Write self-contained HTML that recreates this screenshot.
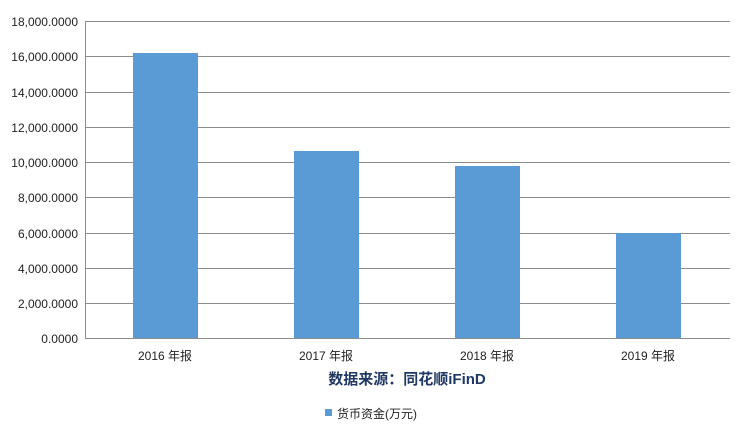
<!DOCTYPE html>
<html><head><meta charset="utf-8"><style>
body{margin:0;background:#fff}
svg text{font-family:"Liberation Sans","Noto Sans CJK SC",sans-serif}
</style></head><body>
<svg width="743" height="430" viewBox="0 0 743 430" xmlns="http://www.w3.org/2000/svg">
<rect width="743" height="430" fill="#fff"/>
<g stroke="#8c8c8c" stroke-width="1">
<line x1="85" y1="21.5" x2="730" y2="21.5"/>
<line x1="85" y1="56.5" x2="730" y2="56.5"/>
<line x1="85" y1="92.5" x2="730" y2="92.5"/>
<line x1="85" y1="127.5" x2="730" y2="127.5"/>
<line x1="85" y1="162.5" x2="730" y2="162.5"/>
<line x1="85" y1="197.5" x2="730" y2="197.5"/>
<line x1="85" y1="233.5" x2="730" y2="233.5"/>
<line x1="85" y1="268.5" x2="730" y2="268.5"/>
<line x1="85" y1="303.5" x2="730" y2="303.5"/>
<line x1="85.5" y1="21" x2="85.5" y2="338"/>
</g>
<g fill="#5b9bd5">
<rect x="133" y="53" width="65" height="285"/>
<rect x="294" y="151" width="65" height="187"/>
<rect x="455" y="166" width="65" height="172"/>
<rect x="616" y="233" width="65" height="105"/>
</g>
<line x1="85" y1="338.5" x2="730" y2="338.5" stroke="#8c8c8c"/>
<g font-size="12" fill="#222" text-anchor="end">
<text x="78" y="26">18,000.0000</text>
<text x="78" y="61">16,000.0000</text>
<text x="78" y="97">14,000.0000</text>
<text x="78" y="132">12,000.0000</text>
<text x="78" y="167">10,000.0000</text>
<text x="78" y="202">8,000.0000</text>
<text x="78" y="238">6,000.0000</text>
<text x="78" y="273">4,000.0000</text>
<text x="78" y="308">2,000.0000</text>
<text x="78" y="343">0.0000</text>
</g>
<g font-size="12" fill="#222" text-anchor="middle">
<text x="165" y="360">2016 年报</text>
<text x="326" y="360">2017 年报</text>
<text x="487" y="360">2018 年报</text>
<text x="648" y="360">2019 年报</text>
</g>
<text x="407" y="384" font-size="15" font-weight="bold" fill="#1f3864" text-anchor="middle">数据来源：同花顺iFinD</text>
<rect x="325" y="409" width="7" height="7" fill="#5b9bd5"/>
<text x="337" y="418" font-size="12" fill="#222">货币资金(万元)</text>
</svg>
</body></html>
